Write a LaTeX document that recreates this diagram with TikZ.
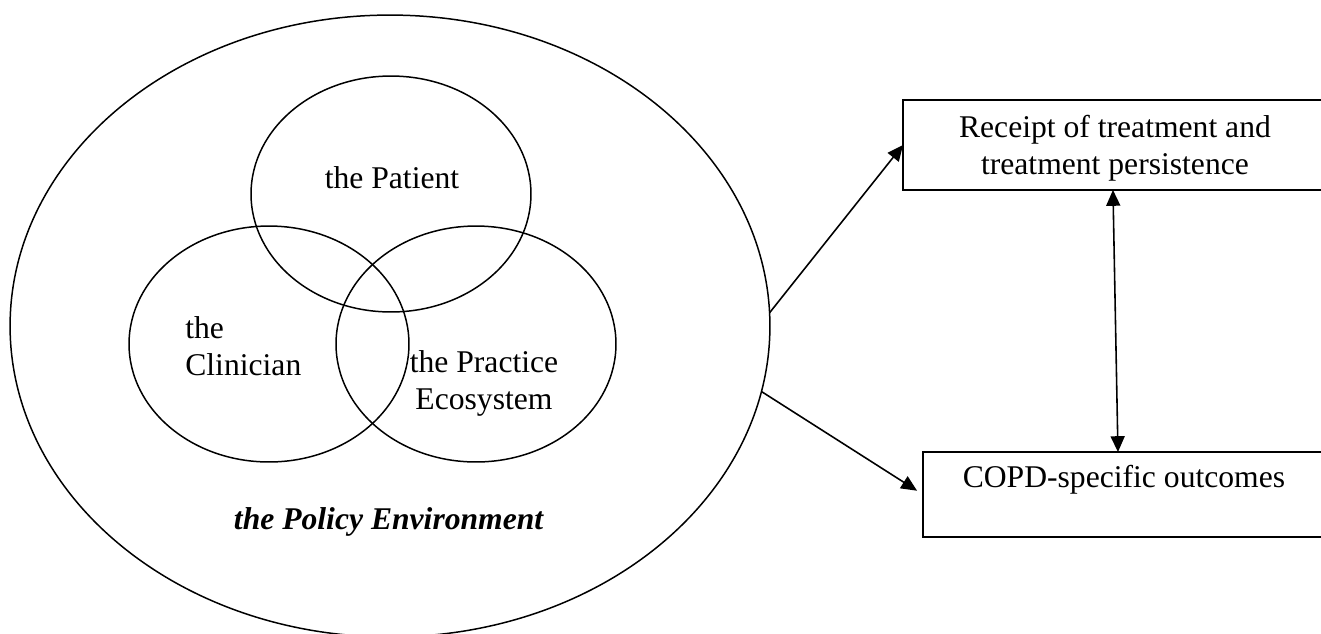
\documentclass[tikz,border=0pt]{standalone}
\usepackage{fontspec}
\setmainfont{Liberation Serif}
\usepackage{tikz}
\usetikzlibrary{shapes.geometric, arrows.meta}

\begin{document}
\begin{tikzpicture}[
    x=0.02cm, y=-0.02cm,
    font=\fontsize{18}{21}\selectfont,
    ring/.style={draw, ellipse, line width=0.85pt, inner sep=0pt, outer sep=0pt,
                 minimum width=5.6cm, minimum height=4.72cm},
    label/.style={inner sep=0pt},
    box/.style={draw, line width=1.1pt, align=center, inner sep=0pt, outer sep=0pt,
                minimum height=1.8cm, anchor=north west},
    arrow/.style={-{Triangle[length=9pt, width=8pt]}, line width=0.9pt}
]
\useasboundingbox (0,0) rectangle (1321,633);

\node[ring, minimum width=15.2cm, minimum height=12.44cm] (policy) at (390,326) {};
\node[ring] (patient)   at (391,194) {};
\node[ring] (clinician) at (269,344) {};
\node[ring] (practice)  at (476,344) {};

\node[label] (patienttxt) at (392,178) {the Patient};
\node[label, align=left, anchor=west] (cliniciantxt) at (185,346) {the\\Clinician};
\node[label, align=center] (practicetxt) at (484,383) {the Practice\\Ecosystem};
\node[label] (policytxt) at (389,522) {\textbf{\textit{the Policy Environment}}};

\node[box, minimum width=8.48cm, text depth=0pt] (receipt) at (903,100) {Receipt of treatment and\\treatment persistence};
\node[box, minimum width=8.04cm, minimum height=1.7cm, text depth=0pt] (outcomes) at (923,452) {COPD-specific outcomes\\ \mbox{}};

\draw[arrow] (policy.2)   -- (receipt.west);
\draw[arrow, shorten >=4pt] (policy.-10) -- (outcomes.west);
\draw[arrow, {Triangle[length=9pt, width=8pt]}-{Triangle[length=9pt, width=8pt]}]
    ([xshift=-0.04cm]receipt.south) -- ([xshift=-0.12cm]outcomes.north);
\end{tikzpicture}
\end{document}
